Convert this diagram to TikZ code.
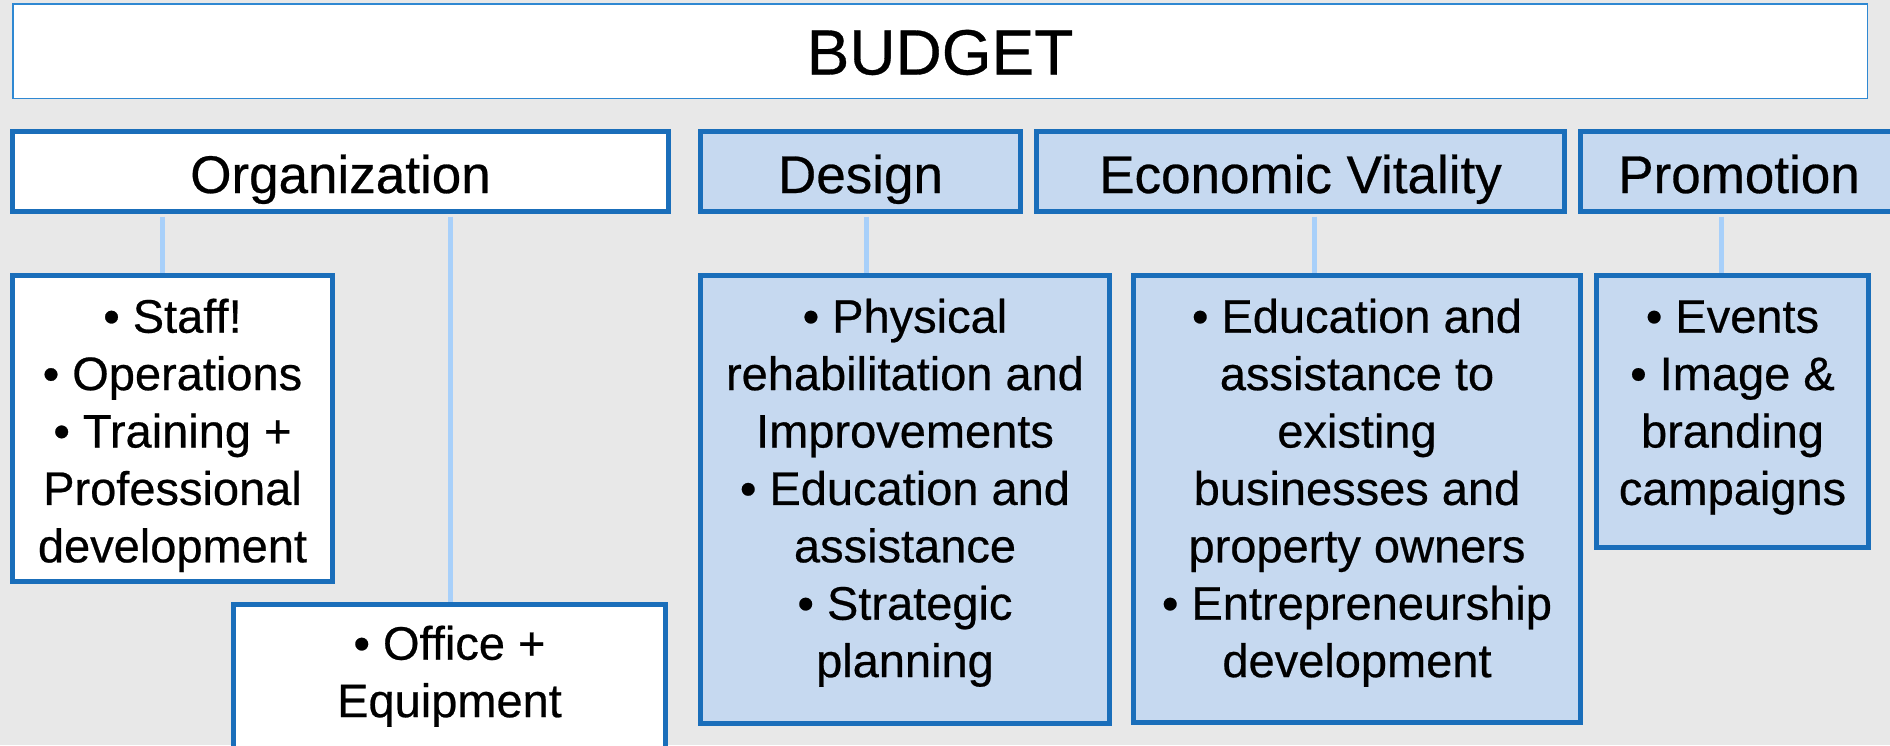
\documentclass[tikz,border=0pt]{standalone}
\usepackage{fontspec}
\setmainfont{Liberation Sans}[FakeBold=0.5]
\definecolor{bgpage}{HTML}{E8E8E8}
\definecolor{framec}{HTML}{1A6EBA}
\definecolor{titleline}{HTML}{2F88D2}
\definecolor{tintc}{HTML}{C6D9F0}
\definecolor{wirec}{HTML}{A8D0FA}
% invisible rule that fixes the height of the first text line
\newcommand{\leadstrut}{\rule{0pt}{40pt}}

\begin{document}
\begin{tikzpicture}[x=1pt, y=-1pt,
  titlebox/.style={draw=titleline, line width=1.5pt, fill=white, inner sep=0pt,
    minimum width=1854.5pt, minimum height=94.5pt,
    font=\fontsize{64}{77}\selectfont, text height=47pt, text depth=0pt},
  headbox/.style={draw=framec, line width=5pt, inner sep=0pt, minimum height=80pt,
    font=\fontsize{53}{64}\selectfont, text height=43pt, text depth=0pt},
  itembox/.style={draw=framec, line width=5pt, inner sep=0pt},
  whitefill/.style={fill=white},
  bluefill/.style={fill=tintc},
  items/.style={anchor=north, align=center, inner sep=0pt,
    font=\fontsize{47}{57.4}\selectfont},
  link/.style={draw=wirec, line width=5pt, shorten <=2.5pt}]

\path[use as bounding box, clip] (0,0) rectangle (1890,745);
\fill[bgpage] (0,0) rectangle (1890,745);

% top banner
\node[titlebox] (budget) at (940,51) {BUDGET};

% category headers
\node[headbox, whitefill, minimum width=656pt] (org)    at (340.5,171.5)  {Organization};
\node[headbox, bluefill,  minimum width=320pt] (design) at (860.5,171.5)  {Design};
\node[headbox, bluefill,  minimum width=528pt] (econ)   at (1300.5,171.5) {Economic Vitality};
\node[headbox, bluefill,  minimum width=317pt] (promo)  at (1739,171.5)   {Promotion};

% detail boxes
\node[itembox, whitefill, minimum width=320pt, minimum height=306pt] (staff)  at (172.5,428.5) {};
\node[itembox, whitefill, minimum width=432pt, minimum height=163pt] (office) at (449.5,686)   {};
\node[itembox, bluefill,  minimum width=409pt, minimum height=448pt] (phys)   at (905,499.5)   {};
\node[itembox, bluefill,  minimum width=447pt, minimum height=447pt] (biz)    at (1357,499)    {};
\node[itembox, bluefill,  minimum width=272pt, minimum height=272pt] (events) at (1732.5,411.5) {};

% detail texts
\node[items] (staffT) at ([yshift=-19.5pt]staff.north)
  {\leadstrut• Staff!\\• Operations\\• Training +\\Professional\\development};
\node[items] (officeT) at ([yshift=-17.5pt]office.north)
  {\leadstrut• Office +\\Equipment};
\node[items] (physT) at ([yshift=-19.5pt]phys.north)
  {\leadstrut• Physical\\rehabilitation and\\Improvements\\• Education and\\assistance\\• Strategic\\planning};
\node[items] (bizT) at ([yshift=-19.5pt]biz.north)
  {\leadstrut• Education and\\assistance to\\existing\\businesses and\\property owners\\• Entrepreneurship\\development};
\node[items] (eventsT) at ([yshift=-19.5pt]events.north)
  {\leadstrut• Events\\• Image \&\\branding\\campaigns};

% connectors
\draw[link] ([xshift=-10.5pt]staff.north |- org.south) -- ([xshift=-10.5pt]staff.north);
\draw[link] ([xshift=0.5pt]office.north |- org.south) -- ([xshift=0.5pt]office.north);
\draw[link] ([xshift=-39pt]phys.north |- design.south) -- ([xshift=-39pt]phys.north);
\draw[link] ([xshift=-43pt]biz.north |- econ.south) -- ([xshift=-43pt]biz.north);
\draw[link] ([xshift=-11.5pt]events.north |- promo.south) -- ([xshift=-11.5pt]events.north);
\end{tikzpicture}
\end{document}
